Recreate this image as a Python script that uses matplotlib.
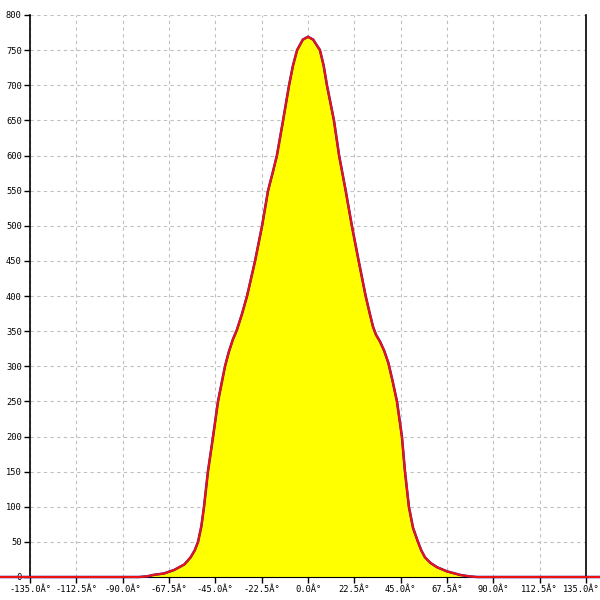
import numpy as np
import matplotlib
matplotlib.use("Agg")
import matplotlib.pyplot as plt
from matplotlib.transforms import ScaledTranslation

# distribution (angle in degrees, count)
angle = [-150, -82, -78, -75, -70, -65, -60, -57, -55, -53.4, -51.8, -50.5,
         -48.6, -46.1, -43.7, -41.8, -40.3, -38.5, -36.5, -34.5, -32,
         -29.6, -25.7, -22.3, -19.4, -17.2, -15.1, -12.1, -9.2, -7.3, -5.3,
         -2.5, 0, 2.5, 5.8, 7.6, 9.2, 12.6, 15.1, 18.3, 21.3, 24.6, 28.0,
         30.0, 31.6, 33.0, 35.0, 37.0, 39.0, 41.0, 43.2, 45.6, 47.1, 49.0,
         51.0, 53.4, 55.0, 56.8, 59.5, 62.6, 67.5, 73.8, 78, 82, 142]
count = [0, 0, 1, 3, 5, 10, 18, 28, 38, 50, 72, 100,
         150, 200, 250, 278, 300, 320, 338, 352, 375,
         400, 450, 500, 550, 575, 600, 650, 700, 728, 750,
         765, 769, 765, 750, 728, 700, 650, 600, 550, 500, 450, 400,
         375, 356, 345, 335, 322, 305, 280, 250, 200, 150, 100,
         70, 50, 38, 28, 20, 14, 8, 3, 1, 0, 0]

xticks = np.arange(-135, 135.1, 22.5)
yticks = np.arange(0, 801, 50)

fig = plt.figure(figsize=(6, 6), dpi=100)
ax = fig.add_axes([30/600, 23/600, 556/600, 562/600])

ax.fill_between(angle, count, 0, color="#ffff00", lw=0, zorder=2)
ax.plot(angle, count, color="#2020c0", lw=1.8, zorder=3, clip_on=False)
ax.plot(angle, count, color="#ee1111", lw=1.5, zorder=4, clip_on=False)

ax.set_xlim(-135, 135)
ax.set_ylim(0, 800)
ax.set_xticks(xticks)
ax.set_xticklabels(["%.1fÂ°" % t for t in xticks])
ax.set_yticks(yticks)
ax.set_yticklabels(["%d" % t for t in yticks])

ax.grid(True, color="#c0c0c0", ls=(0, (3, 3)), lw=0.8, zorder=1)
ax.spines["top"].set_visible(False)
ax.spines["bottom"].set_color("black")
for s in ["left", "right"]:
    ax.spines[s].set_color("black")
    ax.spines[s].set_linewidth(1.2)
ax.tick_params(direction="out", length=4, width=1, pad=2, labelsize=6.3)
for lab in ax.get_xticklabels() + ax.get_yticklabels():
    lab.set_family("DejaVu Sans Mono")

# last label sits at the figure edge, nudge it in a little
last = ax.get_xticklabels()[-1]
last.set_transform(last.get_transform() + ScaledTranslation(-5/100, 0, fig.dpi_scale_trans))

fig.savefig("out.png", dpi=100)
